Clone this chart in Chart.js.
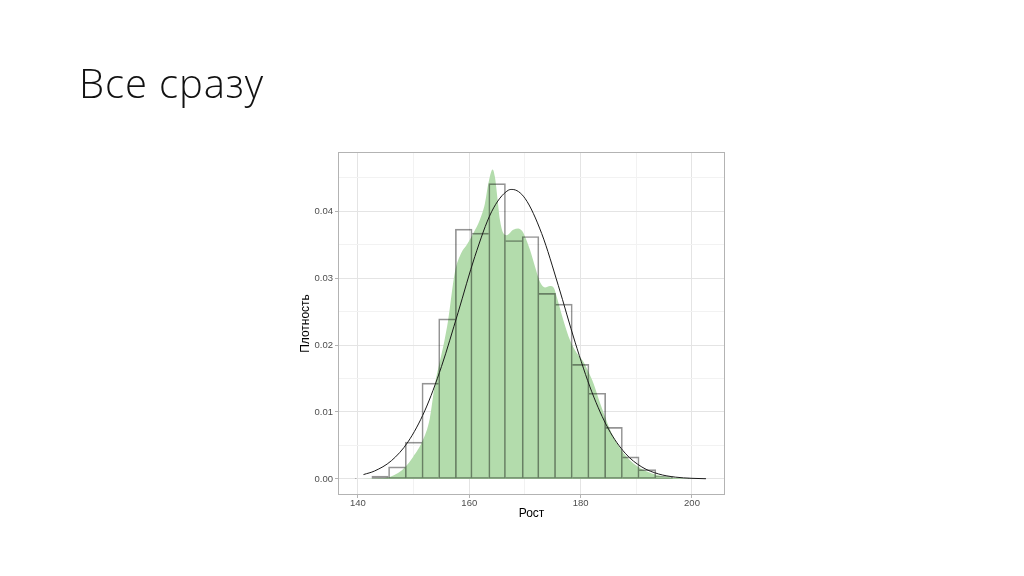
<!DOCTYPE html>
<html>
<head>
<meta charset="utf-8">
<script src="https://cdn.jsdelivr.net/npm/chart.js@4"></script>
<style>
  html, body { margin: 0; padding: 0; background: #fff; }
  #wrap { position: relative; width: 1024px; height: 576px; }
  #slideTitle {
    position: absolute; left: 79px; top: 55px;
    font-family: 'Open Sans', sans-serif; font-weight: 300; font-size: 40px; letter-spacing: 0.9px;
    color: #111; white-space: nowrap;
  }
  canvas { position: absolute; left: 0; top: 0; }
</style>
</head>
<body>
<div id="wrap">
  <canvas id="histChart" width="1024" height="576"></canvas>
  <div id="slideTitle">Все сразу</div>
</div>
<script>
// Histogram of heights (bin width 3) + kernel density + normal curve

// DATA
// ============================================================
const BIN_CENTERS = [141, 144, 147, 150, 153, 156, 159, 162, 165, 168, 171, 174, 177, 180, 183, 186, 189, 192, 195, 198, 201];
const BIN_DENSITY = [0.0001, 0.00045, 0.0018, 0.0055, 0.0143, 0.0239, 0.0373, 0.0367, 0.0441, 0.0356, 0.0362, 0.0277, 0.0261,
                     0.0171, 0.0128, 0.0077, 0.0033, 0.0014, 0.00035, 0.00015, 0.00005];

const KDE_X = [139.5, 142, 144, 145.7, 147.2, 148.5, 149.9, 151.6, 152.9, 153.8, 154.7, 155.5, 156.2, 157.4, 158.6, 159.5,
               160.8, 161.9, 162.8, 163.4, 164.2, 164.6, 165.1, 165.5, 166.1, 166.7, 167.9, 168.8, 169.5, 170.0, 170.9,
               171.8, 172.7, 173.6, 174.5, 175.2, 175.7, 176.9, 178.1, 179.3, 180.5, 181.4, 182.3, 183.5, 184.7, 185.9,
               187.1, 188.3, 189.5, 190.7, 191.9, 193.7, 195.5, 197.9, 200, 203];
const KDE_Y = [0, 0.00005, 0.0001, 0.0003, 0.0009, 0.0018, 0.0033, 0.0057, 0.0090, 0.0140, 0.0175, 0.0205, 0.0237, 0.0308,
               0.0338, 0.0349, 0.0368, 0.0387, 0.0411, 0.0440, 0.0462, 0.0451, 0.0416, 0.0387, 0.0367, 0.0364, 0.0372,
               0.0374, 0.0370, 0.0362, 0.0342, 0.0317, 0.0294, 0.0286, 0.0288, 0.0285, 0.0272, 0.0237, 0.0207, 0.0188,
               0.0175, 0.0160, 0.0143, 0.0113, 0.0086, 0.0063, 0.0046, 0.0033, 0.0023, 0.0016, 0.0011, 0.0006, 0.00034,
               0.0001, 0.00003, 0];

const NORM_X = [141, 143, 146, 149, 152, 155, 158, 161, 164, 167, 167.7, 170, 173, 176, 179, 182, 185, 188, 191, 194, 197, 200, 202.5];
const NORM_Y = [0.00066, 0.0012, 0.00272, 0.00555, 0.01017, 0.01677, 0.02488, 0.03321, 0.03988, 0.0431, 0.04322, 0.0419,
                0.03665, 0.02885, 0.02043, 0.01302, 0.00746, 0.00385, 0.00179, 0.00075, 0.00028, 0.0001, 0.00004];

const X_TICKS = [140, 150, 160, 170, 180, 190, 200];
const X_LABELS = [140, 160, 180, 200];
const Y_TICKS = [0, 0.005, 0.01, 0.015, 0.02, 0.025, 0.03, 0.035, 0.04, 0.045];

// HELPERS
// ============================================================
const isMajorX = v => X_LABELS.includes(v);
const isMajorY = v => Math.round(v * 1000) % 10 === 0;
const zip = (xs, ys) => xs.map((x, i) => ({ x, y: ys[i] }));

// shared edges between neighbouring bins are drawn once, by the taller bin
function binBorder(c) {
  const i = c.dataIndex, h = BIN_DENSITY;
  const left = (i === 0 || h[i - 1] <= h[i]) ? 1 : 0;
  const right = (i === h.length - 1 || h[i + 1] < h[i]) ? 1 : 0;
  return { top: 1, bottom: 1, left, right };
}

// full panel border like ggplot theme_light
const panelBorder = {
  id: 'panelBorder',
  afterDatasetsDraw(chart) {
    const { ctx, chartArea: a } = chart;
    ctx.save();
    ctx.strokeStyle = '#b3b3b3';
    ctx.lineWidth = 1;
    ctx.strokeRect(a.left - 0.5, a.top - 0.5, a.right - a.left + 1, a.bottom - a.top + 1);
    ctx.restore();
  }
};

Chart.defaults.font.family = "'Liberation Sans', Arial, sans-serif";

new Chart(document.getElementById('histChart'), {
  type: 'line',
  data: {
    datasets: [
      { type: 'line', data: zip(NORM_X, NORM_Y), borderColor: '#1a1a1a', borderWidth: 1, pointRadius: 0,
        fill: false, cubicInterpolationMode: 'monotone' },
      { type: 'bar', data: zip(BIN_CENTERS, BIN_DENSITY), backgroundColor: 'transparent',
        borderColor: 'rgba(0,0,0,0.42)', borderWidth: binBorder, borderSkipped: false,
        barPercentage: 1, categoryPercentage: 1 },
      { type: 'line', data: zip(KDE_X, KDE_Y), borderColor: 'transparent', borderWidth: 0, pointRadius: 0,
        backgroundColor: '#b3dcac', fill: 'origin', cubicInterpolationMode: 'monotone' },
    ]
  },
  options: {
    responsive: false,
    animation: false,
    layout: { padding: { left: 289, right: 300, top: 153, bottom: 47 } },
    plugins: { legend: { display: false }, tooltip: { enabled: false } },
    scales: {
      x: {
        type: 'linear', min: 136.6, max: 205.75, offset: false,
        afterBuildTicks: s => { s.ticks = X_TICKS.map(v => ({ value: v })); },
        afterFit: s => { s.height = 35; },
        ticks: { padding: 0, color: '#4d4d4d', font: { size: 9.5 }, maxRotation: 0, autoSkip: false,
                 callback: v => isMajorX(v) ? String(v) : '' },
        grid: { offset: false, color: c => isMajorX(c.tick?.value) ? '#e4e4e4' : '#f2f2f2', tickLength: 4,
                tickColor: c => isMajorX(c.tick?.value) ? '#b3b3b3' : 'transparent' },
        border: { display: false },
        title: { display: true, text: 'Рост', color: '#000', font: { size: 12 }, padding: { top: 0, bottom: 8 } }
      },
      y: {
        type: 'linear', min: -0.00224, max: 0.04866,
        afterBuildTicks: s => { s.ticks = Y_TICKS.map(v => ({ value: v })); },
        afterFit: s => { s.width = 50; },
        ticks: { padding: 2, color: '#4d4d4d', font: { size: 9.5 }, autoSkip: false,
                 callback: v => isMajorY(v) ? v.toFixed(2) : '' },
        grid: { color: c => isMajorY(c.tick?.value ?? 1) ? '#e4e4e4' : '#f2f2f2', tickLength: 4,
                tickColor: c => isMajorY(c.tick?.value ?? 1) ? '#b3b3b3' : 'transparent' },
        border: { display: false },
        title: { display: true, text: 'Плотность', color: '#000', font: { size: 12 }, padding: { top: 9, bottom: 0 } }
      }
    }
  },
  plugins: [panelBorder]
});
</script>
</body>
</html>
